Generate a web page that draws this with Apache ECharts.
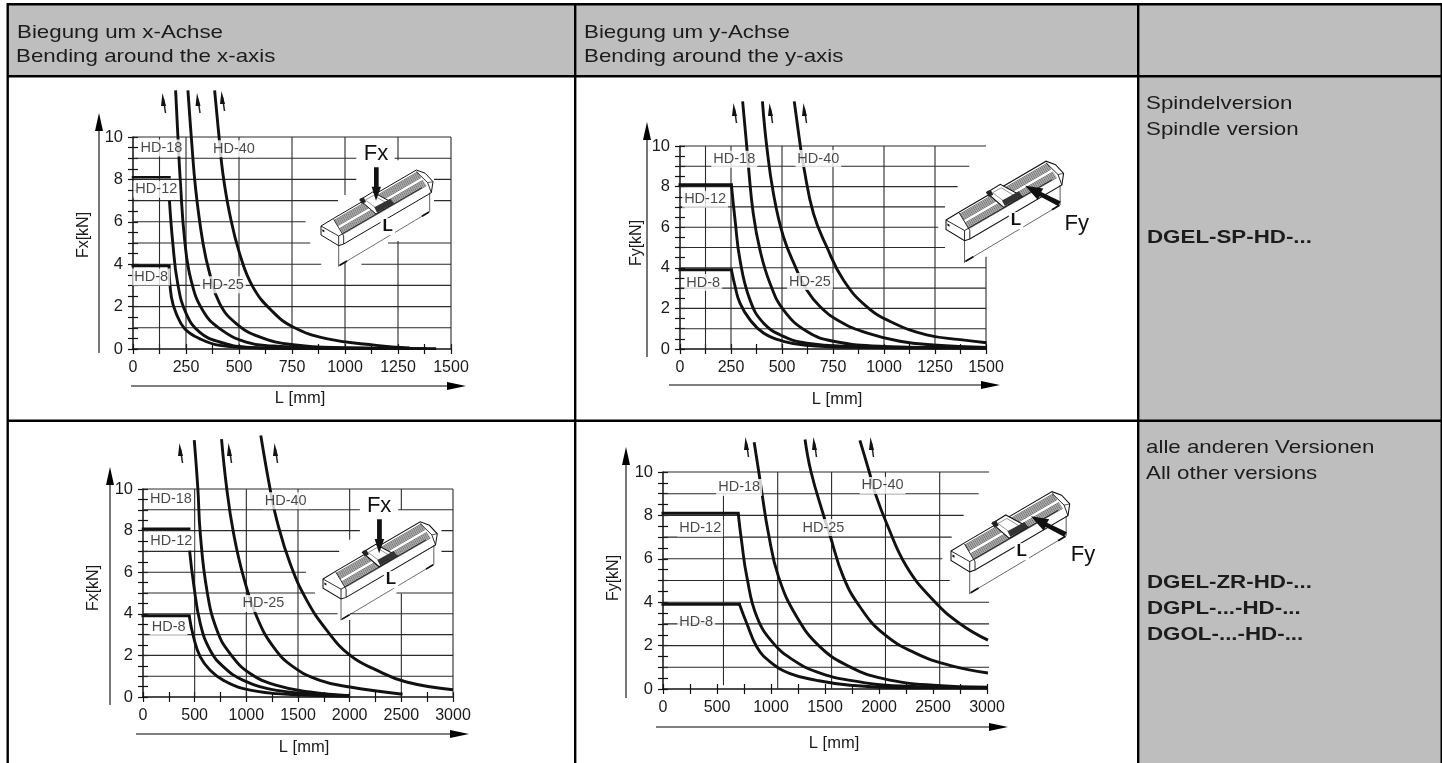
<!DOCTYPE html>
<html>
<head>
<meta charset="utf-8">
<style>html,body{margin:0;padding:0;background:#fff}#c{width:1442px;height:763px}</style>
<script src="https://cdn.jsdelivr.net/npm/echarts@6/dist/echarts.min.js"></script>
</head>
<body>
<div id="c"></div>
<script>
// ---------- Plot 1: Fx, spindle ----------
const p1XTicks = [0,250,500,750,1000,1250,1500];
const p1Flat8  = [[0,3.93],[170,3.93]];
const p1Flat12 = [[0,8.1],[172,8.1]];
const p1Hd8  = [[170,3.93],[181,2.45],[204,1.67],[244,.96],[314,.49],[409,.17],[597,.05],[1069,.02]];
const p1Hd12 = [[172,7.0],[188,4.97],[211,3.08],[251,1.67],[314,.8],[409,.33],[534,.09],[755,.03],[1226,.02]];
const p1Hd18 = [[201,12.2],[212,10],[223,7.95],[244,5.1],[275,3.2],[330,1.8],[409,.96],[534,.33],[660,.14],[912,.05],[1383,.02]];
const p1Hd25 = [[259,12.2],[275,10],[296,7.5],[330,5],[362,3.55],[409,2.14],[487,1.2],[597,.57],[755,.2],[990,.06],[1430,.02]];
const p1Hd40 = [[385,12.2],[406,10],[424,8.27],[456,6.38],[503,4.5],[566,2.92],[660,1.75],[755,1.04],[912,.49],[1148,.17],[1305,.05]];
const p1Labels = [['HD-18',134,9.48],['HD-12',110,7.53],['HD-40',476,9.45],['HD-8',86,3.4],['HD-25',424,3.03]];
const p1GridH = [[10,0,1500],[9,0,1053],[9,1234,1500],[8,0,1053],[8,1420,1500],[7,0,967],[7,1420,1500],[6,0,814],[5,0,836],[5,1203,1500],[4,0,888],[4,1077,1500],[3,0,1500],[2,0,1500],[1,0,1500]];
const p1GridV = [[125,0,10],[250,0,10],[500,0,10],[750,0,10],[1000,7.26,10],[1000,0,4.1],[1250,8.9,10],[1250,0,5.1],[1500,0,10]];

// ---------- Plot 2: Fy, spindle ----------
const p2XTicks = [0,250,500,750,1000,1250,1500];
const p2Flat8  = [[0,3.9],[252,3.9]];
const p2Flat12 = [[0,8.09],[252,8.09]];
const p2Hd8  = [[252,3.9],[270,3.08],[294,2.26],[343,1.44],[409,.79],[507,.38],[621,.18],[833,.08],[1242,.05],[1503,.05]];
const p2Hd12 = [[252,8.09],[270,6.35],[294,4.39],[343,2.42],[409,1.28],[507,.62],[621,.29],[833,.13],[1242,.07],[1503,.06]];
const p2Hd18 = [[307,12.2],[327,10],[335,9.05],[359,6.68],[392,4.88],[441,3.24],[507,1.93],[621,.87],[752,.38],[997,.13],[1503,.05]];
const p2Hd25 = [[404,12.2],[425,10],[458,7.66],[507,5.53],[572,3.9],[613,3.04],[686,2.09],[784,1.36],[915,.79],[1078,.38],[1242,.2],[1503,.08]];
const p2Hd40 = [[560,12.2],[590,10],[605,9.05],[654,6.68],[719,5.04],[801,3.4],[915,2.09],[1046,1.28],[1209,.7],[1373,.46],[1503,.31]];
const p2Labels = [['HD-18',266,9.35],['HD-40',678,9.38],['HD-12',123,7.38],['HD-8',114,3.27],['HD-25',637,3.32]];
const p2GridH = [[10,0,1500],[9,0,1418],[8,0,1361],[7,0,1299],[6,0,1266],[5,0,1299],[4,0,1500],[3,0,1500],[2,0,1500],[1,0,1500]];
const p2GridV = [[125,0,10],[250,0,10],[500,0,10],[750,0,10],[1000,0,10],[1250,0,10],[1500,0,4.55]];

// ---------- Plot 3: Fx, other versions ----------
const p3XTicks = [0,500,1000,1500,2000,2500,3000];
const p3Flat8  = [[0,3.91],[447,3.91]];
const p3Flat12 = [[0,8.09],[447,8.09]];
const p3Hd8  = [[447,3.91],[489,2.89],[554,1.93],[650,1.29],[779,.8],[972,.4],[1294,.16],[1777,.06],[2002,.05]];
const p3Hd12 = [[451,7.04],[489,5.47],[554,3.54],[650,2.25],[779,1.45],[972,.8],[1294,.32],[1777,.11],[2002,.06]];
const p3Hd18 = [[496,12.35],[531,10],[554,7.88],[618,5.14],[715,3.22],[843,2.09],[1037,1.13],[1294,.56],[1616,.24],[2002,.06]];
const p3Hd25 = [[760,12.4],[811,10],[876,7.88],[972,5.79],[1101,3.86],[1262,2.41],[1455,1.45],[1712,.8],[2002,.48],[2511,.13]];
const p3Hd40 = [[1140,12.57],[1230,10],[1294,8.52],[1423,6.43],[1584,4.66],[1777,3.22],[2002,2.01],[2260,1.29],[2549,.72],[3000,.35]];
const p3Labels = [['HD-18',270,9.52],['HD-12',274,7.48],['HD-40',1381,9.44],['HD-25',1165,4.5],['HD-8',248,3.38]];
const p3GridH = [[10,0,3000],[9,0,2099],[9,2469,3000],[8,0,2099],[8,2888,3000],[7,0,1899],[7,2888,3000],[6,0,1577],[5,0,1664],[5,2453,3000],[4,0,1883],[4,2002,3000],[3,0,3000],[2,0,3000],[1,0,3000]];
const p3GridV = [[500,0,10],[1000,0,10],[1500,0,10],[2000,7.56,10],[2000,0,3.7],[2500,9,10],[2500,0,4.98],[3000,0,10]];

// ---------- Plot 4: Fy, other versions ----------
const p4XTicks = [0,500,1000,1500,2000,2500,3000];
const p4Flat8  = [[0,3.91],[708,3.91]];
const p4Flat12 = [[0,8.1],[696,8.1]];
const p4Hd8  = [[708,3.91],[776,3.02],[869,1.94],[992,1.25],[1177,.71],[1423,.4],[1731,.17],[2193,.06],[3009,.05]];
const p4Hd12 = [[696,8.1],[730,6.72],[776,5.18],[869,3.33],[1023,2.1],[1207,1.33],[1423,.79],[1731,.4],[2193,.14],[3009,.06]];
const p4Hd18 = [[844,11.37],[887,10],[915,9.06],[976,7.18],[1069,5.18],[1238,3.33],[1454,1.94],[1731,1.02],[2039,.48],[2501,.17],[3009,.08]];
const p4Hd25 = [[1315,11.5],[1371,10],[1485,8.03],[1540,7.18],[1669,5.18],[1823,3.79],[2039,2.56],[2347,1.63],[2655,1.09],[3009,.74]];
const p4Hd40 = [[1823,11.46],[1910,10],[1962,9.06],[2070,7.64],[2255,5.64],[2501,4.1],[2747,3.02],[3009,2.25]];
const p4Labels = [['HD-18',705,9.29],['HD-40',2033,9.38],['HD-12',345,7.41],['HD-25',1485,7.44],['HD-8',308,3.1]];
const p4GridH = [[10,0,3062],[9,0,2923],[8,0,2784],[7,0,2673],[6,0,2587],[5,0,2655],[4,0,3055],[3,0,3055],[2,0,3055],[1,0,3055]];
const p4GridV = [[560,.17,9],[1062,0,10],[1561,0,10],[2060,0,10],[2562,0,10],[3055,.3,4.48],[3055,9.7,10]];

// ---------- Shared ----------
const yTickLabels = ['0','2','4','6','8','10'];
const headerTexts = [['Biegung um x-Achse','Bending around the x-axis'],['Biegung um y-Achse','Bending around the y-axis']];
const row1Texts = ['Spindelversion','Spindle version'];
const row1Bold  = ['DGEL-SP-HD-...'];
const row2Texts = ['alle anderen Versionen','All other versions'];
const row2Bold  = ['DGEL-ZR-HD-...','DGPL-...-HD-...','DGOL-...-HD-...'];

// ---------- Layout (pixels) ----------
const FONT = '"Liberation Sans", Arial, sans-serif';
const plots = [
 {l:133,r:451,t:137,b:349,xMax:1500,step:250,xTicks:p1XTicks,yName:'Fx[kN]',yPad:16,xPad:16,xGap:41,yGap:41,
  flats:[p1Flat8,p1Flat12],curves:[p1Hd8,p1Hd12,p1Hd18,p1Hd25,p1Hd40],labels:p1Labels,gh:p1GridH,gv:p1GridV},
 {l:680,r:986,t:146,b:349,xMax:1500,step:250,xTicks:p2XTicks,yName:'Fy[kN]',yPad:9,xPad:8,xGap:42,yGap:35,
  flats:[p2Flat8,p2Flat12],curves:[p2Hd8,p2Hd12,p2Hd18,p2Hd25,p2Hd40],labels:p2Labels,gh:p2GridH,gv:p2GridV},
 {l:143,r:453,t:489,b:697,xMax:3000,step:500,xTicks:p3XTicks,yName:'Fx[kN]',yPad:10,xPad:12,xGap:42,yGap:41,
  flats:[p3Flat8,p3Flat12],curves:[p3Hd8,p3Hd12,p3Hd18,p3Hd25,p3Hd40],labels:p3Labels,gh:p3GridH,gv:p3GridV},
 {l:663,r:987,t:472,b:689,xMax:3000,step:500,xTicks:p4XTicks,yName:'Fy[kN]',yPad:5,xPad:18,xGap:46,yGap:41,
  flats:[p4Flat8,p4Flat12],curves:[p4Hd8,p4Hd12,p4Hd18,p4Hd25,p4Hd40],labels:p4Labels,gh:p4GridH,gv:p4GridV}
];
const axisArrows = [
 {yx:99, yTop:113,yBot:353, xy:386,xL:131,xR:466, ups:[[164,93],[198.5,93],[223,91]]},
 {yx:647,yTop:122,yBot:357, xy:385,xL:669,xR:1000,ups:[[735,103],[771,103],[805,103]]},
 {yx:110,yTop:467,yBot:705, xy:734,xL:136,xR:469, ups:[[181,443],[230,443],[276,443]]},
 {yx:626,yTop:447,yBot:698, xy:727,xL:656,xR:1008,ups:[[747,437],[815,437],[872,437]]}
];
const insets = [
 {x:321,y:226,s:1,force:'Fx'},
 {x:946,y:220,s:1.05,force:'Fy'},
 {x:323,y:579,s:1.02,force:'Fx'},
 {x:951,y:551,s:1.06,force:'Fy'}
];

const INK = '#111', GRID = '#2a2a2a';
const grids=[], xAxes=[], yAxes=[], series=[];

function segsH(g){const o=[];g.forEach(r=>{o.push([r[1],r[0]],[r[2],r[0]],[null,null]);});return o;}
function segsV(g){const o=[];g.forEach(r=>{o.push([r[0],r[1]],[r[0],r[2]],[null,null]);});return o;}

plots.forEach((p,i)=>{
  grids.push({left:p.l,top:p.t,width:p.r-p.l,height:p.b-p.t,containLabel:false});
  const line={show:true,onZero:false,lineStyle:{color:INK,width:1.5}};
  const tick=(inside)=>({show:true,inside,length:5,lineStyle:{color:INK,width:1.2}});
  const minor=(n)=>({show:true,splitNumber:n,length:5,lineStyle:{color:INK,width:1.2}});
  xAxes.push({type:'value',gridIndex:i,min:0,max:p.xMax,interval:p.step,position:'bottom',
    axisLine:line,axisTick:tick(false),minorTick:minor(2),splitLine:{show:false},
    axisLabel:{show:true,margin:11,color:'#1a1a1a',fontSize:16,fontFamily:FONT,hideOverlap:false,showMinLabel:true,showMaxLabel:true,
      formatter:v=>p.xTicks.includes(v)?String(v):''},
    name:'L [mm]',nameLocation:'middle',nameGap:p.xGap,
    nameTextStyle:{color:'#1a1a1a',fontSize:16.5,fontFamily:FONT,padding:[0,0,0,p.xPad]}});
  yAxes.push({type:'value',gridIndex:i,min:0,max:10,interval:1,position:'left',
    axisLine:line,axisTick:tick(false),minorTick:minor(2),splitLine:{show:false},
    axisLabel:{show:true,margin:10,color:'#1a1a1a',fontSize:16.5,fontFamily:FONT,hideOverlap:false,
      formatter:v=>yTickLabels.includes(String(v))?String(v):''},
    name:p.yName,nameLocation:'middle',nameGap:p.yGap,
    nameTextStyle:{color:'#1a1a1a',fontSize:16,fontFamily:FONT,padding:[0,0,0,p.yPad]}});
  xAxes.push({type:'value',gridIndex:i,min:0,max:p.xMax,interval:p.step,position:'bottom',
    axisLine:{show:false},axisTick:tick(true),minorTick:minor(2),splitLine:{show:false},axisLabel:{show:false}});
  yAxes.push({type:'value',gridIndex:i,min:0,max:10,interval:1,position:'left',
    axisLine:{show:false},axisTick:tick(true),minorTick:minor(2),splitLine:{show:false},axisLabel:{show:false}});
  const xi=i*2, yi=i*2;
  const base={type:'line',xAxisIndex:xi,yAxisIndex:yi,showSymbol:false,symbol:'none',clip:false,silent:true,animation:false};
  series.push(Object.assign({},base,{name:'grid-h-'+i,z:1,data:segsH(p.gh),connectNulls:false,lineStyle:{color:GRID,width:1.1}}));
  series.push(Object.assign({},base,{name:'grid-v-'+i,z:1,data:segsV(p.gv),connectNulls:false,lineStyle:{color:GRID,width:1.1}}));
  p.flats.forEach((d,k)=>series.push(Object.assign({},base,{name:'flat-'+i+'-'+k,z:3,data:d,
     lineStyle:{color:INK,width:(i===2&&k===1)||(i===0&&k===1)?2.5:3,cap:'square'}})));
  p.curves.forEach((d,k)=>series.push(Object.assign({},base,{name:'curve-'+i+'-'+k,z:3,data:d,smooth:0.45,
     lineStyle:{color:INK,width:2.9}})));
  series.push({type:'scatter',name:'labels-'+i,xAxisIndex:xi,yAxisIndex:yi,z:5,clip:false,silent:true,animation:false,symbolSize:1,
     itemStyle:{color:'rgba(0,0,0,0)'},
     data:p.labels.map(l=>({name:l[0],value:[l[1],l[2]]})),
     label:{show:true,position:'inside',formatter:'{b}',color:'#1a1a1a',fontSize:14.5,fontFamily:FONT,backgroundColor:'#fff',padding:[1,2]}});
});

// ---------- Decoration ----------
const gfx=[];
const Z={table:-5,deco:10};
function rect(x,y,w,h,fill){gfx.push({type:'rect',silent:true,z:Z.table,shape:{x,y,width:w,height:h},style:{fill}});}
function txt(t,x,base,size,bold){
  gfx.push({type:'text',silent:true,z:Z.table+1,x,y:base-size*0.28,scaleX:1.175,
    style:{text:t,fill:'#1c1c1c',font:(bold?'bold ':'')+size+'px '+FONT,verticalAlign:'middle',align:'left'}});
}
const GREY='#bebebe';
rect(7,4,1435,72,GREY);
rect(1138,76,304,687,GREY);
[[7,3,1435,2.4],[7,75,1435,2.4],[7,419.5,1435,2.4]].forEach(r=>rect(r[0],r[1],r[2],r[3],'#000'));
[[6.5,3,2.4,760],[574,3,2.4,760],[1137,3,2.4,760],[1440.5,3,2,760]].forEach(r=>rect(r[0],r[1],r[2],r[3],'#000'));
txt(headerTexts[0][0],17,38,19); txt(headerTexts[0][1],16,62,19);
txt(headerTexts[1][0],584,38,19); txt(headerTexts[1][1],584,62,19);
row1Texts.forEach((t,i)=>txt(t,1146,109+i*26,19));
row1Bold.forEach((t,i)=>txt(t,1147,243+i*26,19,true));
row2Texts.forEach((t,i)=>txt(t,1146,453+i*26,19));
row2Bold.forEach((t,i)=>txt(t,1147,588+i*26,19,true));

function poly(pts,fill,stroke,lw){return {type:'polygon',silent:true,z:Z.deco,shape:{points:pts},style:{fill:fill||'none',stroke:stroke||'none',lineWidth:lw||0}};}
function pline(pts,stroke,lw){return {type:'polyline',silent:true,z:Z.deco,shape:{points:pts},style:{fill:'none',stroke,lineWidth:lw}};}

axisArrows.forEach(a=>{
  gfx.push(pline([[a.yx,a.yTop+10],[a.yx,a.yBot]],'#555',1.6));
  gfx.push(poly([[a.yx,a.yTop],[a.yx+4,a.yTop+18],[a.yx-4,a.yTop+18]],'#000'));
  gfx.push(pline([[a.xL,a.xy],[a.xR-10,a.xy]],'#555',1.6));
  gfx.push(poly([[a.xR,a.xy],[a.xR-19,a.xy-4],[a.xR-19,a.xy+4]],'#000'));
  a.ups.forEach(u=>{
    const x=u[0],y=u[1];
    gfx.push(pline([[x-.5,y+6],[x+1.5,y+20]],'#222',1.5));
    gfx.push(poly([[x-1.5,y],[x+2,y+13],[x-3,y+13]],'#111'));
  });
});

function insetChildren(force){
  const O=[32,258], L=a=>a.map(p=>[p[0]-O[0],p[1]-O[1]]);
  const c=[];
  c.push(poly(L([[32,258],[70,235],[318,90],[345,100],[368,125],[363,158],[100,312],[85,317],[32,285]]),'#fff','#111',3));
  for(let k=1;k<17;k++){
    const t=k/17; if(t>.46&&t<.54) continue;
    const s=[70+t*30,238+t*47];
    c.push(pline(L([s,[s[0]+250,s[1]-145]]),'#333',2));
  }
  c.push(pline(L([[85,288],[335,143]]),'#111',2.6));
  c.push(pline(L([[85,288],[32,258]]),'#111',2.6));
  c.push(pline(L([[85,288],[85,317]]),'#111',2.6));
  c.push(pline(L([[70,238],[100,288],[100,312]]),'#111',2.6));
  c.push(pline(L([[318,95],[352,128],[363,158]]),'#111',2.6));
  c.push(pline(L([[352,128],[368,125]]),'#111',2));
  c.push(poly(L([[36,268],[42,271],[42,277],[36,274]]),'#111'));
  c.push(poly(L([[148,180],[187,156],[250,190],[197,222]]),'#fff','#111',3));
  c.push(poly(L([[165,180],[190,166],[230,190],[200,206]]),'#fff','#333',1.5));
  c.push(poly(L([[148,176],[160,172],[167,186],[154,192]]),'#222'));
  c.push(poly(L([[192,202],[240,176],[250,190],[200,218]]),'#333'));
  c.push(pline(L([[85,317],[85,380]]),'#111',2));
  c.push(pline(L([[358,158],[358,215]]),'#111',2));
  c.push(pline(L([[85,378],[358,215]]),'#111',1.8));
  c.push(pline(L([[88,376],[110,363]]),'#111',5));
  c.push(pline(L([[335,229],[356,216]]),'#111',5));
  if(force==='Fx'){
    c.push(poly(L([[191,82],[205,82],[205,140],[212,140],[197,182],[184,140],[191,140]]),'#111'));
  }else{
    c.push(poly(L([[360,205],[352,218],[300,190],[294,200],[258,160],[310,168],[304,178]]),'#111'));
  }
  return c;
}
insets.forEach(n=>{
  gfx.push({type:'group',x:n.x,y:n.y,scaleX:n.s/3,scaleY:n.s/3,z:Z.deco,children:insetChildren(n.force)});
  gfx.push({type:'text',silent:true,z:Z.deco+1,x:n.x+66.7*n.s,y:n.y+.7*n.s,
    style:{text:'L',font:'bold 17px '+FONT,fill:'#111',backgroundColor:'#fff',padding:[0,2],align:'center',verticalAlign:'middle'}});
  if(n.force==='Fx'){
    gfx.push({type:'text',silent:true,z:Z.deco+1,x:n.x+55*n.s,y:n.y-71.7*n.s,
      style:{text:'Fx',font:'22px '+FONT,fill:'#111',align:'center',verticalAlign:'middle'}});
  }else{
    gfx.push({type:'text',silent:true,z:Z.deco+1,x:n.x+124.5*n.s,y:n.y+3.3*n.s,
      style:{text:'Fy',font:'22px '+FONT,fill:'#111',align:'center',verticalAlign:'middle'}});
  }
});

const chart=echarts.init(document.getElementById('c'),null,{renderer:'canvas',width:1442,height:763});
chart.setOption({animation:false,backgroundColor:'#fff',grid:grids,xAxis:xAxes,yAxis:yAxes,series:series,graphic:{elements:gfx}});
</script>
</body>
</html>
